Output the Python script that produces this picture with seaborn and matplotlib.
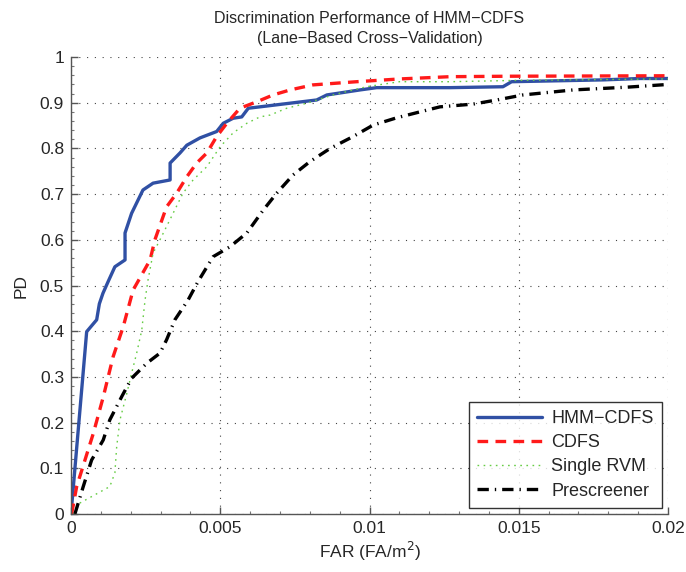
import matplotlib
matplotlib.use("Agg")
import matplotlib.pyplot as plt
from matplotlib.ticker import MultipleLocator
import numpy as np
import pandas as pd
import seaborn as sns

# ROC curves (FAR in FA/m^2, PD)
hmm_far = [0, 0.000525, 0.00086, 0.00095, 0.00107, 0.00124, 0.00147, 0.00181, 0.00181,
           0.00203, 0.00241, 0.00275, 0.00332, 0.00332, 0.00365, 0.00388, 0.00432, 0.00488,
           0.0051, 0.00543, 0.00572, 0.00594, 0.00633, 0.00734, 0.00823, 0.00857, 0.00968,
           0.01024, 0.0127, 0.01447, 0.01476, 0.01783, 0.01906, 0.02]
hmm_pd = [0, 0.399, 0.425, 0.46, 0.483, 0.508, 0.541, 0.556, 0.615,
          0.658, 0.709, 0.724, 0.731, 0.768, 0.79, 0.807, 0.823, 0.837,
          0.855, 0.866, 0.869, 0.888, 0.891, 0.899, 0.906, 0.917, 0.928,
          0.933, 0.933, 0.935, 0.946, 0.95, 0.953, 0.953]

cdfs_far = [0.00002, 0.00019, 0.00075, 0.00108, 0.00141, 0.00175, 0.00208, 0.00214, 0.00265,
            0.00281, 0.0032, 0.00354, 0.00388, 0.00421, 0.00455, 0.00488, 0.00522, 0.00566,
            0.00622, 0.00677, 0.00734, 0.0081, 0.00957, 0.011, 0.0127, 0.0147, 0.02]
cdfs_pd = [0, 0.06, 0.177, 0.256, 0.344, 0.41, 0.49, 0.497, 0.556,
           0.6, 0.672, 0.702, 0.738, 0.768, 0.79, 0.826, 0.855, 0.888,
           0.902, 0.917, 0.928, 0.939, 0.946, 0.952, 0.957, 0.958, 0.959]

rvm_far = [0.0001, 0.0003, 0.0013, 0.00147, 0.00153, 0.00164, 0.00187, 0.00203, 0.0022,
           0.00237, 0.00248, 0.00258, 0.00275, 0.00298, 0.0032, 0.00342, 0.00375, 0.00409,
           0.00455, 0.005, 0.00543, 0.00589, 0.00633, 0.00667, 0.00723, 0.0079, 0.00878,
           0.0099, 0.011, 0.0127, 0.015, 0.02]
rvm_pd = [0, 0.024, 0.06, 0.09, 0.147, 0.206, 0.264, 0.308, 0.352,
          0.402, 0.468, 0.512, 0.571, 0.6, 0.629, 0.658, 0.702, 0.731,
          0.76, 0.804, 0.834, 0.855, 0.869, 0.873, 0.888, 0.899, 0.917,
          0.935, 0.946, 0.946, 0.949, 0.952]

pre_far = [0.00013, 0.00041, 0.00069, 0.00108, 0.0013, 0.0017, 0.00203, 0.00254, 0.00298,
           0.0032, 0.00348, 0.00392, 0.00425, 0.00476, 0.00533, 0.00589, 0.00644, 0.00689,
           0.00744, 0.008, 0.00868, 0.00945, 0.01012, 0.01091, 0.01169, 0.01236, 0.01347,
           0.01426, 0.01514, 0.01682, 0.01862, 0.02]
pre_pd = [0, 0.06, 0.118, 0.162, 0.206, 0.257, 0.297, 0.33, 0.352,
          0.381, 0.425, 0.468, 0.508, 0.563, 0.585, 0.615, 0.665, 0.702,
          0.742, 0.771, 0.8, 0.826, 0.851, 0.867, 0.88, 0.891, 0.897,
          0.906, 0.917, 0.928, 0.934, 0.94]

x_ticks = [0, 0.005, 0.01, 0.015, 0.02]
x_tick_labels = ["0", "0.005", "0.01", "0.015", "0.02"]
y_ticks = [round(0.1 * i, 1) for i in range(11)]
y_tick_labels = ["0", "0.1", "0.2", "0.3", "0.4", "0.5", "0.6", "0.7", "0.8", "0.9", "1"]


def main():
    sns.set_style("ticks")
    plt.rcParams["font.family"] = ["Liberation Sans", "DejaVu Sans"]

    fig = plt.figure(figsize=(6.86, 5.72), dpi=100)
    ax = fig.add_axes([0.1035, 0.1014, 0.8703, 0.7989])

    series = [
        ("HMM\u2212CDFS", hmm_far, hmm_pd, dict(color="#3050a4", lw=2.4, ls="-")),
        ("CDFS", cdfs_far, cdfs_pd, dict(color="#ff1a1a", lw=2.4, dashes=(3.2, 2.2))),
        ("Single RVM", rvm_far, rvm_pd, dict(color="#66cc44", lw=1.0, dashes=(1.2, 3.2))),
        ("Prescreener", pre_far, pre_pd,
         dict(color="black", lw=2.4, dashes=(3.4, 1.8, 0.4, 1.8))),
    ]
    for name, far, pd_vals, style in series:
        df = pd.DataFrame({"FAR": far, "PD": pd_vals})
        sns.lineplot(data=df, x="FAR", y="PD", sort=False, estimator=None,
                     ax=ax, label=name, **style)

    ax.set_xlim(0, 0.02)
    ax.set_ylim(0, 1)
    ax.set_xticks(x_ticks)
    ax.set_xticklabels(x_tick_labels)
    ax.set_yticks(y_ticks)
    ax.set_yticklabels(y_tick_labels)
    ax.xaxis.set_minor_locator(MultipleLocator(0.001))
    ax.yaxis.set_minor_locator(MultipleLocator(0.02))
    ax.tick_params(which="major", direction="in", length=5, width=1.0, labelsize=12.5,
                   color="#555555", pad=5, bottom=True, left=True)
    ax.tick_params(which="minor", direction="in", length=2.5, width=0.8,
                   color="#777777", bottom=True, left=True)
    ax.grid(True, which="major", linestyle=(0, (1, 6)), color="#444444", linewidth=0.8)

    for side in ["top", "right"]:
        ax.spines[side].set_visible(False)
    for side in ["left", "bottom"]:
        ax.spines[side].set_color("#555555")
        ax.spines[side].set_linewidth(1.0)

    ax.set_xlabel("FAR (FA/m$^2$)", fontsize=12.5, labelpad=3)
    ax.set_ylabel("PD", fontsize=12.5, labelpad=8)
    ax.set_title("Discrimination Performance of HMM\u2212CDFS\n(Lane\u2212Based Cross\u2212Validation)",
                 fontsize=11.5, pad=10, linespacing=1.45)

    leg = ax.legend(loc="lower right", fontsize=13, frameon=True, fancybox=False,
                    handlelength=3.6, borderpad=0.45, labelspacing=0.4,
                    borderaxespad=0.35, handletextpad=0.5)
    leg.get_frame().set_edgecolor("black")
    leg.get_frame().set_linewidth(1.0)

    fig.savefig("out.png", dpi=100)


if __name__ == "__main__":
    main()
